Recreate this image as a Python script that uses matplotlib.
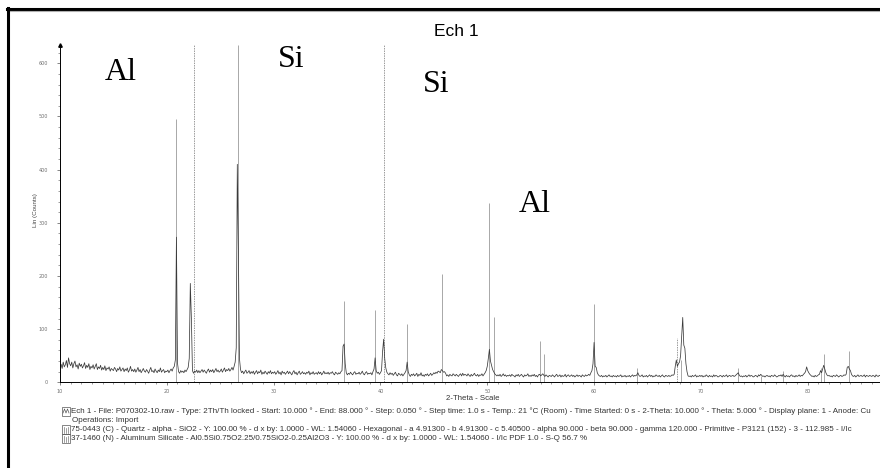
import numpy as np
import matplotlib
matplotlib.use("Agg")
import matplotlib.pyplot as plt
from matplotlib.lines import Line2D
from matplotlib.patches import Rectangle
from matplotlib.ticker import MultipleLocator

# ---------------- data ----------------
scan_start = 10.0
scan_step = 0.1
counts = [
    30, 34, 26, 38, 29, 33, 41, 28, 46, 35,   # 10
    31, 38, 27, 35, 40, 29, 33, 25, 36, 30,   # 11
    34, 27, 31, 37, 26, 32, 28, 35, 24, 30,   # 12
    27, 33, 25, 30, 35, 24, 29, 26, 32, 23,   # 13
    28, 24, 31, 22, 27, 25, 29, 21, 26, 24,   # 14
    22, 28, 25, 20, 26, 23, 29, 21, 24, 27,   # 15
    20, 25, 22, 27, 19, 23, 30, 21, 24, 20,   # 16
    25, 19, 23, 28, 20, 24, 18, 22, 26, 21,   # 17
    19, 24, 21, 17, 23, 28, 20, 22, 18, 25,   # 18
    21, 18, 23, 20, 27, 19, 22, 24, 18, 21,   # 19
    20, 23, 18, 22, 25, 21, 27, 30, 42, 273,  # 20
    36, 20, 17, 22, 19, 21, 18, 23, 20, 24,   # 21
    28, 45, 186, 120, 22, 17, 21, 19, 23, 18, # 22
    22, 18, 21, 24, 19, 23, 20, 17, 22, 25,   # 23
    19, 23, 20, 24, 18, 22, 26, 20, 23, 19,   # 24
    21, 25, 19, 23, 27, 20, 24, 22, 26, 21,   # 25
    24, 28, 23, 30, 38, 65, 410, 250, 45, 24, # 26
    18, 21, 16, 20, 23, 17, 19, 22, 16, 20,   # 27
    17, 21, 15, 19, 22, 16, 20, 18, 23, 15,   # 28
    19, 16, 21, 18, 15, 20, 17, 22, 16, 19,   # 29
    17, 20, 15, 18, 22, 16, 19, 14, 21, 17,   # 30
    19, 15, 18, 21, 16, 20, 17, 14, 19, 22,   # 31
    16, 19, 14, 18, 21, 15, 17, 20, 16, 18,   # 32
    15, 19, 17, 21, 14, 18, 16, 20, 15, 17,   # 33
    18, 15, 20, 16, 19, 14, 17, 21, 16, 18,   # 34
    16, 19, 15, 18, 17, 20, 16, 14, 19, 17,   # 35
    15, 18, 16, 20, 22, 68, 72, 35, 18, 14,   # 36
    17, 15, 19, 16, 14, 18, 20, 15, 17, 16,   # 37
    19, 15, 17, 21, 16, 14, 18, 20, 15, 17,   # 38
    16, 18, 14, 20, 25, 46, 22, 17, 19, 15,   # 39
    18, 22, 58, 81, 45, 27, 19, 16, 14, 18,   # 40
    15, 17, 13, 16, 19, 14, 12, 17, 15, 13,   # 41
    16, 12, 15, 18, 22, 38, 20, 14, 11, 15,   # 42
    13, 16, 12, 14, 17, 11, 15, 13, 18, 12,   # 43
    14, 11, 15, 13, 16, 12, 14, 17, 13, 15,   # 44
    18, 16, 19, 17, 21, 20, 18, 24, 22, 19,   # 45
    20, 17, 12, 14, 11, 15, 13, 12, 16, 14,   # 46
    12, 15, 13, 11, 14, 16, 12, 17, 13, 15,   # 47
    14, 12, 16, 13, 11, 15, 12, 14, 17, 13,   # 48
    12, 15, 11, 14, 13, 16, 12, 15, 18, 22,   # 49
    30, 45, 62, 40, 32, 24, 20, 16, 14, 12,   # 50
    14, 12, 15, 11, 13, 16, 12, 14, 11, 13,   # 51
    12, 14, 11, 15, 13, 12, 10, 14, 12, 15,   # 52
    11, 13, 15, 12, 10, 14, 12, 13, 16, 11,   # 53
    13, 11, 14, 12, 15, 11, 13, 10, 14, 15,   # 54
    12, 14, 16, 13, 11, 14, 12, 10, 13, 12,   # 55
    11, 14, 12, 10, 13, 15, 11, 12, 14, 10,   # 56
    13, 11, 12, 15, 10, 13, 14, 11, 12, 14,   # 57
    11, 13, 10, 12, 14, 11, 13, 12, 10, 14,   # 58
    12, 11, 14, 12, 13, 15, 13, 18, 22, 35,   # 59
    75, 30, 28, 18, 14, 12, 11, 13, 10, 12,   # 60
    11, 13, 10, 12, 14, 11, 12, 10, 13, 11,   # 61
    12, 10, 13, 11, 12, 14, 10, 12, 11, 13,   # 62
    10, 12, 11, 13, 10, 12, 14, 11, 13, 12,   # 63
    14, 18, 13, 11, 12, 14, 10, 12, 11, 13,   # 64
    10, 12, 14, 11, 13, 10, 12, 11, 14, 12,   # 65
    11, 13, 10, 12, 14, 11, 10, 13, 12, 11,   # 66
    13, 11, 12, 14, 13, 15, 30, 42, 30, 35,   # 67
    38, 50, 85, 122, 70, 64, 35, 20, 12, 11,  # 68
    12, 10, 13, 11, 12, 14, 10, 12, 11, 13,   # 69
    11, 13, 10, 12, 11, 14, 12, 10, 13, 11,   # 70
    12, 10, 14, 11, 13, 12, 10, 11, 13, 12,   # 71
    10, 13, 11, 12, 14, 10, 12, 13, 11, 12,   # 72
    13, 11, 12, 14, 16, 18, 13, 11, 12, 10,   # 73
    12, 11, 13, 10, 12, 14, 11, 13, 12, 10,   # 74
    11, 13, 12, 10, 14, 12, 15, 13, 11, 12,   # 75
    10, 12, 13, 11, 12, 10, 13, 12, 11, 14,   # 76
    12, 10, 11, 13, 12, 14, 11, 15, 12, 10,   # 77
    13, 11, 12, 10, 13, 14, 11, 12, 10, 13,   # 78
    11, 12, 14, 11, 13, 12, 15, 17, 20, 29,   # 79
    22, 18, 15, 13, 11, 12, 10, 13, 11, 12,   # 80
    14, 15, 22, 18, 25, 32, 25, 18, 14, 12,   # 81
    13, 11, 12, 10, 13, 12, 11, 14, 12, 10,   # 82
    12, 13, 11, 12, 14, 13, 15, 28, 30, 25,   # 83
    22, 15, 12, 11, 13, 10, 12, 14, 11, 12,   # 84
    13, 11, 12, 14, 10, 13, 12, 11, 13, 12,   # 85
    11, 13, 12, 10, 14, 12, 11, 13, 12, 10,   # 86
    12,                                       # 87.0
]
two_theta = scan_start + scan_step * np.arange(len(counts))

# reference pattern sticks (2-theta, height in counts as drawn)
quartz_pos = [20.85, 26.65, 36.55, 39.45, 42.45, 45.80, 50.15, 50.60, 54.90,
              55.35, 59.95, 64.05, 68.10, 73.50, 75.65, 77.70, 81.20, 81.50,
              83.85]
quartz_h = [495, 634, 152, 136, 109, 203, 337, 122, 77,
            53, 148, 26, 42, 27, 12, 21, 27, 53,
            59]
silicate_pos = [22.50, 40.35, 67.75]
silicate_h = [634, 634, 84]

y_ticks = [0, 100, 200, 300, 400, 500, 600]
x_ticks = [10, 20, 30, 40, 50, 60, 70, 80]

title = "Ech 1"
x_label = "2-Theta - Scale"
y_label = "Lin (Counts)"
annotations = [("Al", 105, 80), ("Si", 278, 67), ("Si", 423, 92), ("Al", 519, 212)]
legend_lines = [
    "Ech 1 - File: P070302-10.raw - Type: 2Th/Th locked - Start: 10.000 \u00b0 - End: 88.000 \u00b0 - Step: 0.050 \u00b0 - Step time: 1.0 s - Temp.: 21 \u00b0C (Room) - Time Started: 0 s - 2-Theta: 10.000 \u00b0 - Theta: 5.000 \u00b0 - Display plane: 1 - Anode: Cu",
    "Operations: Import",
    "75-0443 (C) - Quartz - alpha - SiO2 - Y: 100.00 % - d x by: 1.0000 - WL: 1.54060 - Hexagonal - a 4.91300 - b 4.91300 - c 5.40500 - alpha 90.000 - beta 90.000 - gamma 120.000 - Primitive - P3121 (152) - 3 - 112.985 - I/Ic",
    "37-1460 (N) - Aluminum Silicate - Al0.5Si0.75O2.25/0.75SiO2-0.25Al2O3 - Y: 100.00 % - d x by: 1.0000 - WL: 1.54060 - I/Ic PDF 1.0 - S-Q 56.7 %",
]

# ---------------- figure ----------------
W, H = 880, 468
fig = plt.figure(figsize=(W / 100, H / 100), dpi=100)
fig.patch.set_facecolor("white")

def fx(px):
    return px / W

def fy(py):
    return 1 - py / H

x0_px, y0_px, ytop_px = 60, 382.3, 45
ax = fig.add_axes([fx(x0_px), fy(y0_px), fx(W - x0_px), (y0_px - ytop_px) / H])
px_per_deg = 747.7 / 70
px_per_count = 319.0 / 600
ax.set_xlim(10, 10 + (W - x0_px) / px_per_deg)
ax.set_ylim(0, (y0_px - ytop_px) / px_per_count)

ax.vlines(quartz_pos, 0, quartz_h, colors="#a8a8a8", lw=0.7, zorder=1)
ax.vlines(silicate_pos, 0, silicate_h, colors="#9a9a9a", lw=0.7,
          linestyles=(0, (1.5, 1)), zorder=1)
ax.plot(two_theta, counts, color="#3a3a3a", lw=0.55, zorder=2)

for s in ["top", "right"]:
    ax.spines[s].set_visible(False)
for s in ["left", "bottom"]:
    ax.spines[s].set_linewidth(0.7)
    ax.spines[s].set_color("black")

ax.set_xticks(x_ticks)
ax.set_yticks(y_ticks)
ax.xaxis.set_minor_locator(MultipleLocator(1))
ax.yaxis.set_minor_locator(MultipleLocator(20))
ax.tick_params(axis="both", which="major", direction="out", length=2.5,
               width=0.5, labelsize=3.5, labelcolor="#707070", color="#555555")
ax.tick_params(axis="both", which="minor", direction="out", length=1.6,
               width=0.5, color="#777777")
ax.tick_params(axis="y", which="major", pad=6)
ax.tick_params(axis="x", which="major", pad=2.5)

# arrow at top of y axis
ax.plot([0], [1], marker="^", ms=2.5, color="black", transform=ax.transAxes,
        clip_on=False)

fig.text(fx(35), fy(210), y_label, rotation=90, ha="center", va="center",
         fontsize=4.5, color="#444444", family="Liberation Sans")
fig.text(fx(473), fy(398), x_label, ha="center", va="center",
         fontsize=5.6, color="#333333", family="Liberation Sans")
fig.text(fx(456), fy(32), title, ha="center", va="center", fontsize=12.5,
         color="black", family="Liberation Sans")

for txt, px, py in annotations:
    fig.text(fx(px), fy(py), txt, ha="left", va="baseline", fontsize=23,
             family="Liberation Serif", color="black")

# legend block
ly = [411, 420, 429.5, 438.5]
lx = [71, 72, 71, 71]
for t, x, y in zip(legend_lines, lx, ly):
    fig.text(fx(x), fy(y), t, ha="left", va="center", fontsize=5.8,
             color="#333333", family="Liberation Sans")
for y in [ly[0], ly[2], ly[3]]:
    fig.add_artist(Rectangle((fx(62), fy(y + 4.5)), fx(8), 9 / H,
                             fill=False, lw=0.5, ec="#555555",
                             transform=fig.transFigure))
# small glyphs inside boxes
fig.add_artist(Line2D([fx(63), fx(64.5), fx(66), fx(67.5), fx(69)],
                      [fy(ly[0] + 2), fy(ly[0] - 2), fy(ly[0] + 2), fy(ly[0] - 2), fy(ly[0] + 2)],
                      lw=0.5, color="#555555", transform=fig.transFigure))
for y in [ly[2], ly[3]]:
    for xx in [64, 66, 68]:
        fig.add_artist(Line2D([fx(xx), fx(xx)], [fy(y + 3), fy(y - (2 if xx == 66 else 3))],
                              lw=0.5, color="#777777", transform=fig.transFigure))

# outer frame (top and left)
fig.add_artist(Line2D([fx(7), fx(W)], [fy(9), fy(9)], lw=2.2, color="black",
                      transform=fig.transFigure))
fig.add_artist(Line2D([fx(9), fx(W)], [fy(10.8), fy(10.8)], lw=0.8, color="#b0b0b0",
                      transform=fig.transFigure))
fig.add_artist(Line2D([fx(8), fx(8)], [fy(8), fy(H)], lw=2.2, color="black",
                      transform=fig.transFigure))

fig.savefig("out.png", dpi=100)
